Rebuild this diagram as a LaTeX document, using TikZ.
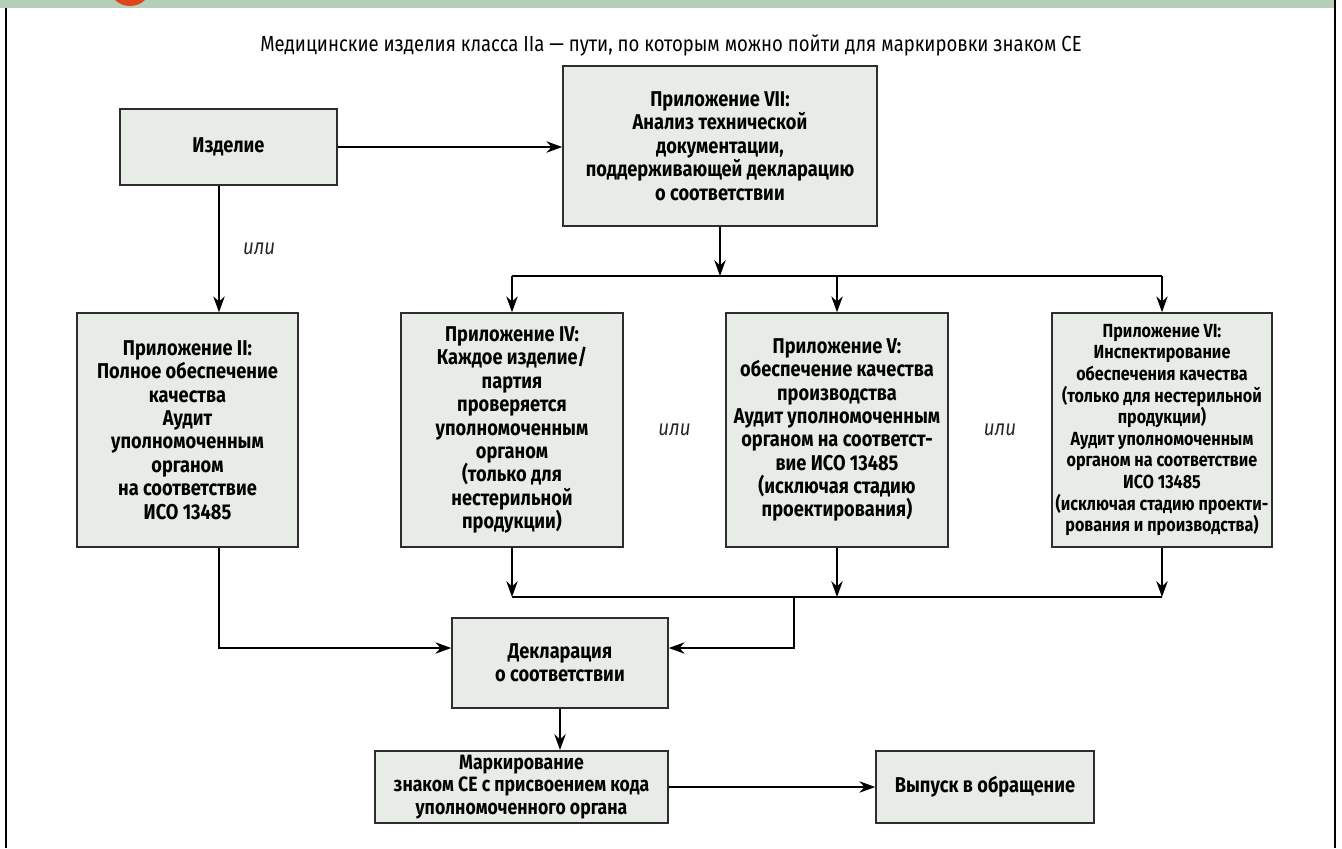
\documentclass[tikz,border=0pt]{standalone}
\usepackage{fontspec}
\setmainfont{Fira Sans}[FakeStretch=0.85]
\usetikzlibrary{arrows.meta,calc}
\definecolor{barfill}{RGB}{181,206,185}
\definecolor{dotfill}{RGB}{224,68,27}
\definecolor{boxfill}{RGB}{232,236,230}
\definecolor{boxline}{RGB}{45,45,45}
\tikzset{
  box/.style={draw=boxline, fill=boxfill, line width=0.9pt, align=center, inner sep=1pt,
    font=\bfseries\fontsize{12.2}{13.3}\selectfont},
  ili/.style={font=\itshape\fontsize{12.5}{13}\selectfont, text=black!85},
  >={Stealth[length=9pt,width=6.5pt]}
}
\begin{document}
\begin{tikzpicture}[line width=0.8pt]
\useasboundingbox (0,0) rectangle (26.84,-16.96);
% frame and header bar
\fill[barfill] (0,0) rectangle (26.7,-0.15);
\begin{scope}
\clip (0,0) rectangle (26.84,-16.96);
\fill[dotfill] (2.6,0.315) circle (0.435);
\end{scope}
\draw[line width=1.2pt] (0.12,-0.15) -- (0.12,-16.96);
\draw[line width=1.2pt] (26.7,0) -- (26.7,-16.96);
\node (title) at (13.42,-0.9) {\fontsize{12.4}{13}\selectfont Медицинские изделия класса IIa~— пути, по которым можно пойти для маркировки знаком CE};

% boxes
\node[box, minimum width=4.34cm, minimum height=1.52cm] (izd) at (4.57,-2.94) {Изделие};
\node[box, minimum width=6.28cm, minimum height=3.2cm] (ann7) at (14.4,-2.92)
  {Приложение VII:\\ Анализ технической\\ документации,\\ поддерживающей декларацию\\ о соответствии};
\node[box, minimum width=4.42cm, minimum height=4.68cm] (ann2) at (3.75,-8.6)
  {Приложение II:\\ Полное обеспечение\\ качества\\ Аудит\\ уполномоченным\\ органом\\ на соответствие\\ ИСО 13485};
\node[box, minimum width=4.44cm, minimum height=4.68cm] (ann4) at (10.24,-8.6)
  {Приложение IV:\\ Каждое изделие/\\ партия\\ проверяется\\ уполномоченным\\ органом\\ (только для\\ нестерильной\\ продукции)};
\node[box, minimum width=4.44cm, minimum height=4.68cm] (ann5) at (16.74,-8.6)
  {Приложение V:\\ обеспечение качества\\ производства\\ Аудит уполномоченным\\ органом на соответст-\\ вие ИСО 13485\\ (исключая стадию\\ проектирования)};
\node[box, font=\bfseries\fontsize{10.8}{12.3}\selectfont, minimum width=4.4cm, minimum height=4.68cm] (ann6) at (23.24,-8.6)
  {Приложение VI:\\ Инспектирование\\ обеспечения качества\\ (только для нестерильной\\ продукции)\\ Аудит уполномоченным\\ органом на соответствие\\ ИСО 13485\\ (исключая стадию проекти-\\ рования и производства)};
\node[box, minimum width=4.32cm, minimum height=1.8cm] (decl) at (11.2,-13.26)
  {Декларация\\ о соответствии};
\node[box, font=\bfseries\fontsize{11.8}{12.8}\selectfont, minimum width=5.86cm, minimum height=1.45cm] (mark) at (10.43,-15.74)
  {Маркирование\\ знаком CE с присвоением кода\\ уполномоченного органа};
\node[box, minimum width=4.36cm, minimum height=1.45cm] (vyp) at (19.7,-15.74)
  {Выпуск в обращение};

\node[ili] (or45) at ($(ann4.east)!0.5!(ann5.west)$) {или};
\node[ili] (or56) at ($(ann5.east)!0.5!(ann6.west)$) {или};

% connectors
\coordinate (upbus) at (0,-5.52);
\coordinate (lowbus) at (0,-11.94);
\coordinate (declin) at (0,-12.96);
\coordinate (split) at (15.88,-11.94);
\coordinate (izdout) at ([xshift=-0.19cm]izd.south);
\draw[->] (izd.east) -- (izd.east -| ann7.west);
\draw[->] (izdout) -- (izdout |- ann2.north) node[ili, midway, right=0.35cm] {или};
\draw[->] (ann7.south) -- (ann7.south |- upbus);
\draw (ann4.north |- upbus) -- (ann6.north |- upbus);
\foreach \n in {ann4,ann5,ann6} \draw[->] (\n.north |- upbus) -- (\n.north);
\foreach \n in {ann4,ann5,ann6} \draw[->] (\n.south) -- (\n.south |- lowbus);
\draw (ann4.south |- lowbus) -- (ann6.south |- lowbus);
\draw[->] (split) |- (decl.east |- declin);
\draw[->] (izdout |- ann2.south) |- (decl.west |- declin);
\draw[->] (decl.south) -- (decl.south |- mark.north);
\draw[->] (mark.east) -- (vyp.west);
\end{tikzpicture}
\end{document}
